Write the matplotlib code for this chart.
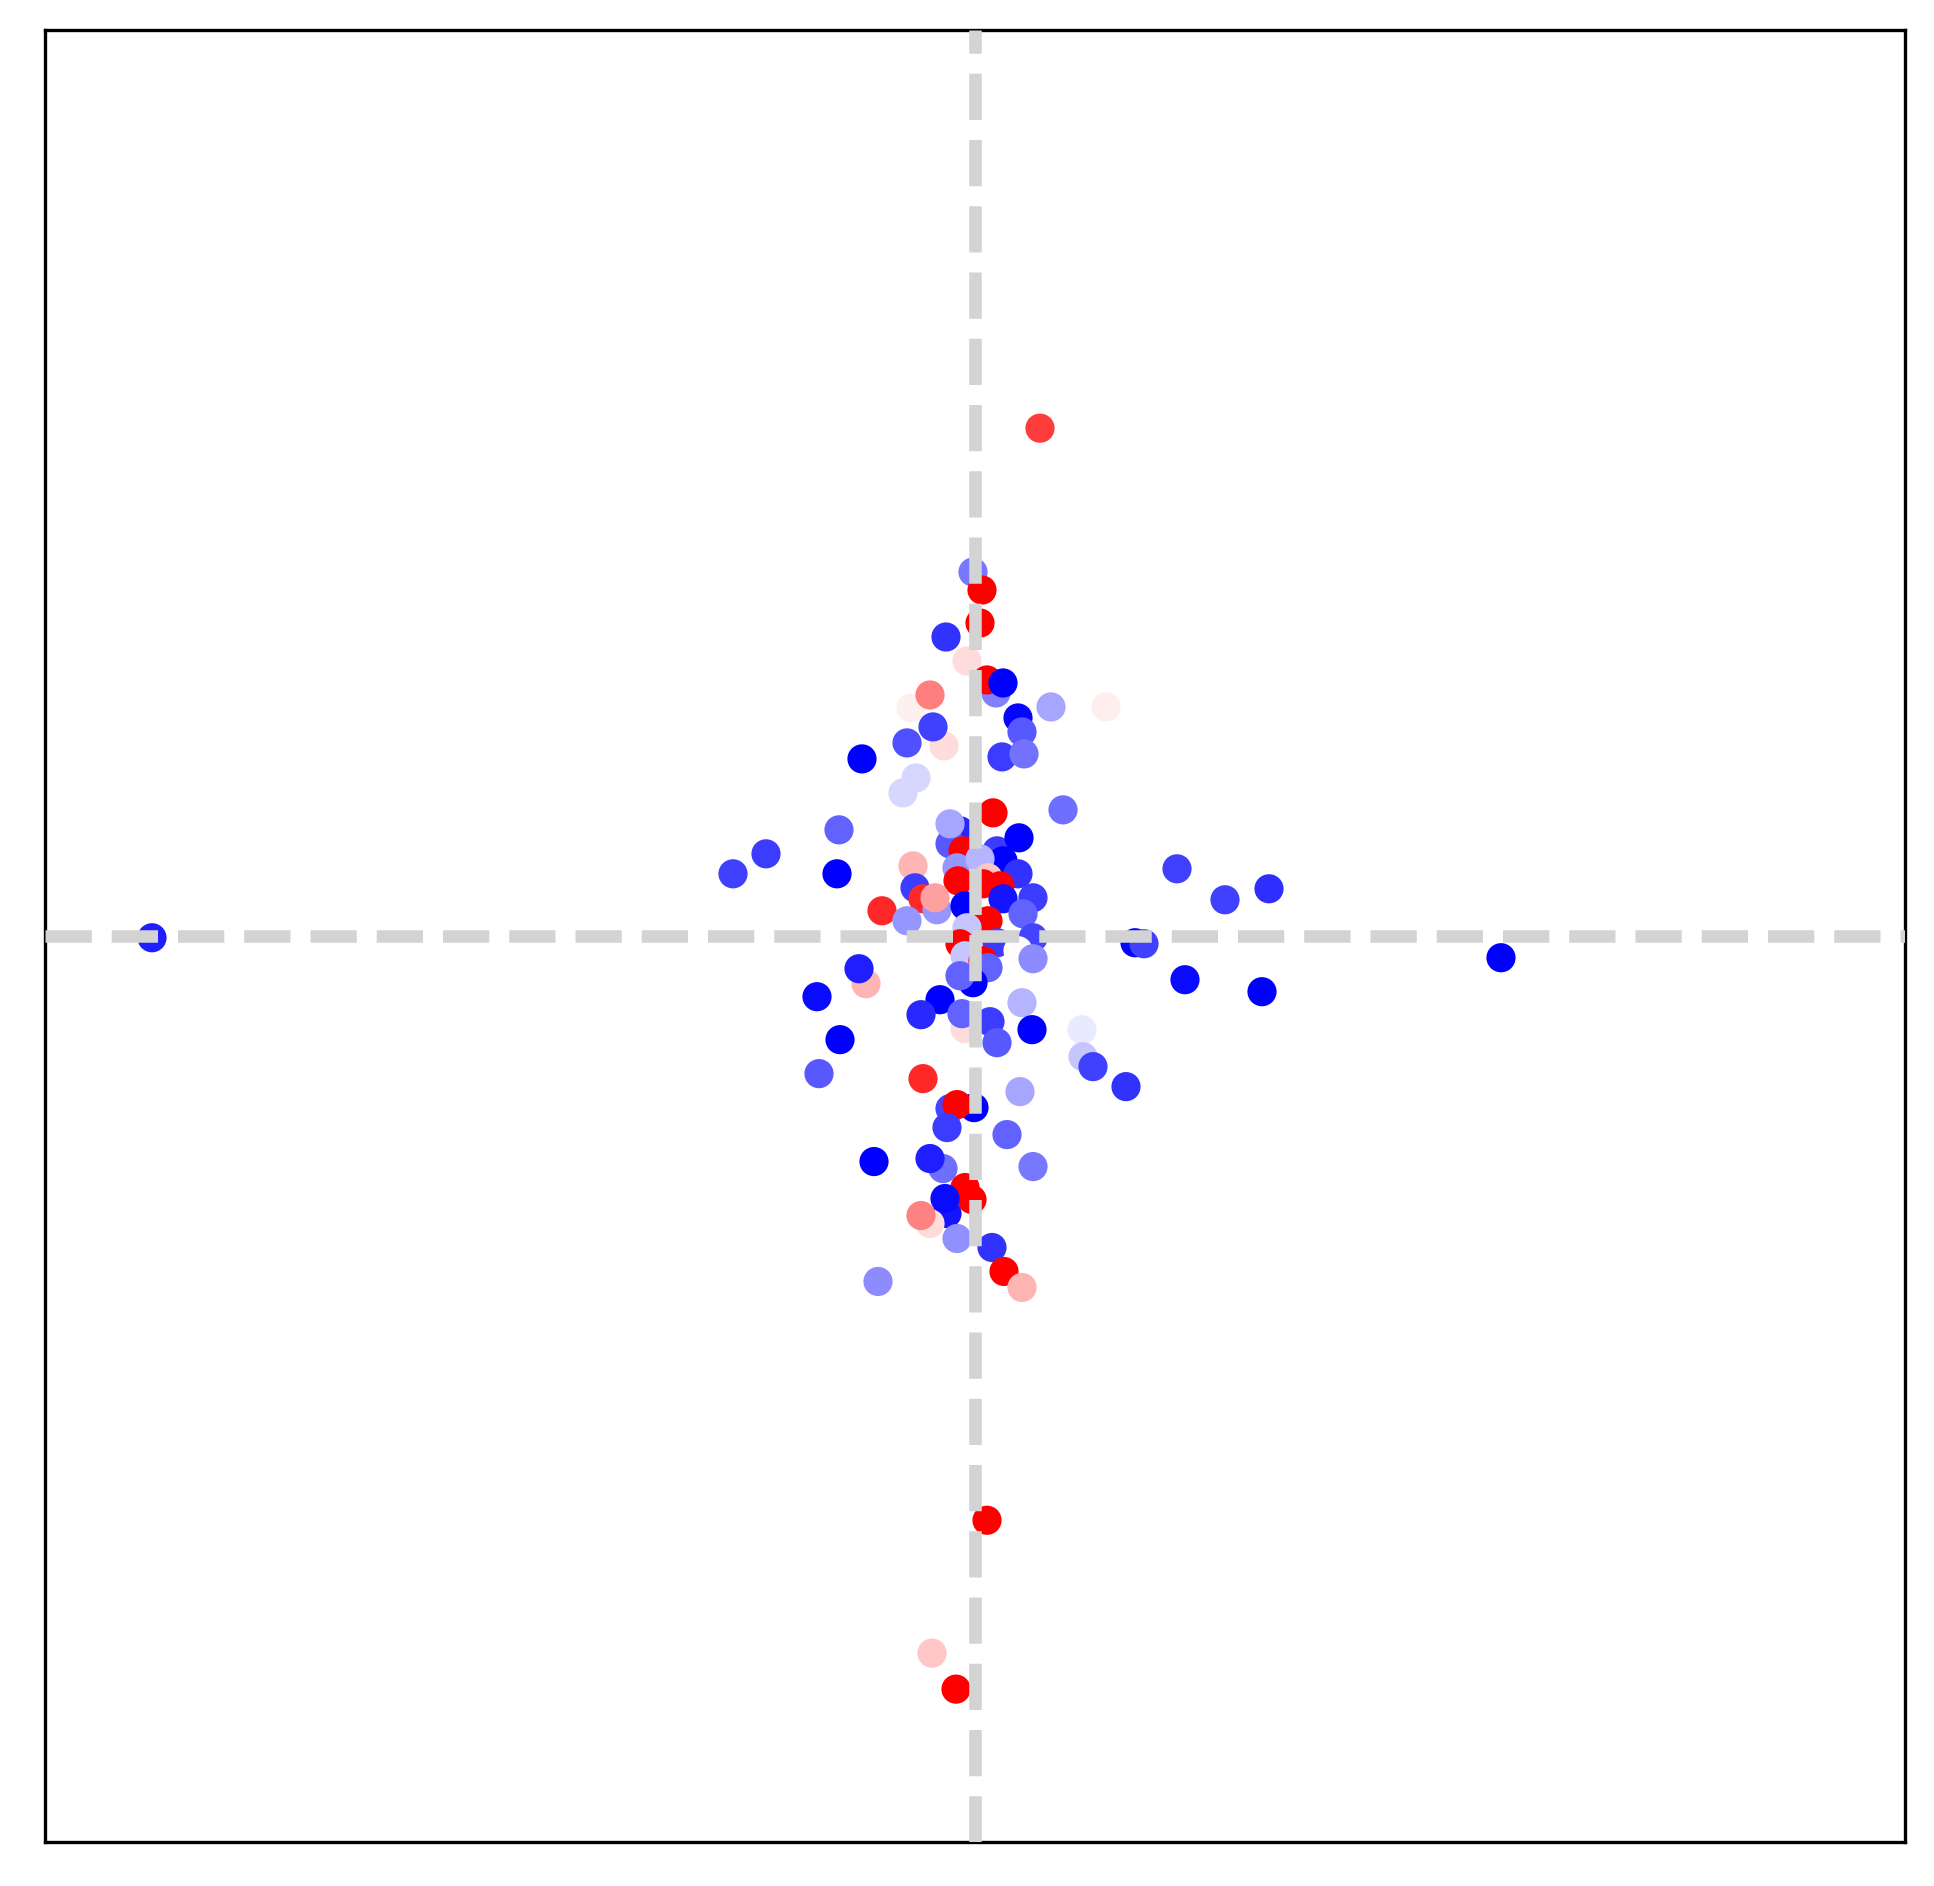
import matplotlib
matplotlib.use("Agg")
import matplotlib.pyplot as plt

# x / y positions of the points (arbitrary units)
x_vals = [0.65, -0.02, 0.07, 0.05, -0.29, -0.08, 0.21, 0.12, 0.28, -0.64,
          -0.45, 0.76, 1.31, 0.43, 0.47, -0.31, -0.42, -0.68, -1.13, 0.27,
          0.49, -0.72, -0.59, 0.88, -1.36, -2.09, -2.42, -1.38, -0.93, 2.02,
          2.50, 2.94, -8.23, 5.26, -0.15, -0.25, 0.18, -0.25, -0.12, 0.22,
          0.28, 0.44, 0.43, -0.18, 0.05, 0.13, -0.17, 0.08, 0.25, -0.62,
          -0.60, -0.52, -0.38, -0.40, -0.68, -0.10, 0.28, 0.58, 0.48, 0.13,
          -0.08, 0.58, 0.22, -0.15, 0.43, 0.58, -0.10, 0.08, 0.13, -0.02,
          -0.15, -0.35, -0.54, -0.10, -0.13, 0.15, 0.22, 0.47, 0.57, -1.09,
          -1.16, -1.58, -1.35, -1.56, 1.60, 1.69, 2.10, 2.87, 1.07, 1.08,
          1.18, 1.51, -0.52, 0.45, -0.25, -0.01, -0.18, -0.28, 0.32, -1.01,
          -0.32, -0.45, 0.58, -0.28, -0.45, -0.54, -0.10, -0.03, -0.30, -0.18,
          0.17, 0.29, 0.47, -0.97, 0.12, -0.43, -0.19]

y_vals = [5.08, 3.64, 3.46, 3.13, 2.99, 2.75, 2.43, 2.56, 2.53, 2.28,
          2.41, 2.29, 2.29, 2.18, 2.04, 1.90, 2.09, 1.93, 1.77, 1.79,
          1.82, 1.43, 1.58, 1.26, 1.06, 0.82, 0.62, 0.62, 0.25, 0.67,
          0.36, 0.47, -0.02, -0.22, 1.05, 0.92, 1.23, 1.12, 0.85, 0.85,
          0.75, 0.98, 0.62, 0.68, 0.77, 0.58, 0.55, 0.52, 0.50, 0.70,
          0.48, 0.37, 0.26, 0.38, 0.15, 0.30, 0.37, 0.38, 0.22, 0.15,
          0.08, -0.02, -0.07, -0.08, -0.15, -0.23, -0.20, -0.25, -0.32, -0.47,
          -0.40, -0.64, -0.79, -0.93, -0.78, -0.86, -1.07, -0.67, -0.94, -0.48,
          -0.33, -0.61, -1.04, -1.38, -0.07, -0.08, -0.44, -0.56, -0.94, -1.21,
          -1.31, -1.51, -1.43, -1.56, -1.73, -1.72, -1.69, -1.92, -1.99, -2.26,
          -2.33, -2.23, -2.31, -2.78, -2.88, -2.80, -2.52, -2.64, -2.63, -3.03,
          -3.12, -3.36, -3.52, -3.46, -5.85, -7.18, -7.54]

# colour value of each point (-1 = blue, 0 = white, 1 = red)
c_vals = [0.76, -0.53, 1.0, 1.0, -0.80, 0.14, -0.50, 1.0, -1.0, 0.06,
          0.50, -0.35, 0.07, -0.97, -0.65, 0.14, -0.75, -0.68, -1.0, -0.76,
          -0.55, -0.16, -0.16, -0.57, -0.61, -0.76, -0.75, -1.0, 0.84, -0.75,
          -0.75, -0.82, -0.88, -1.0, -0.85, -0.65, 1.0, -0.35, 1.0, -0.76,
          -1.0, -1.0, -0.80, -0.41, -0.29, 0.22, 1.0, 1.0, 1.0, 0.29,
          -0.76, 0.84, -0.41, 0.37, -0.41, -1.0, -0.92, -0.76, -0.61, 1.0,
          -0.22, -0.73, -0.76, 1.0, 0.01, -0.45, -0.22, 1.0, -0.61, -1.0,
          -0.61, -1.0, -0.84, 0.14, -0.61, -0.76, -0.65, -0.29, -1.0, 0.29,
          -0.88, -0.96, -1.0, -0.65, -0.98, -0.75, -0.96, -1.0, -0.08, -0.22,
          -0.75, -0.80, 0.84, -0.35, -0.73, -1.0, 1.0, -0.76, -0.61, -1.0,
          -0.57, -0.88, -0.53, -0.92, 0.14, 0.49, 1.0, 1.0, -0.96, -0.43,
          -0.80, 1.0, 0.29, -0.45, 1.0, 0.22, 1.0]

W, H = 1934, 1886
fig = plt.figure(figsize=(W / 300, H / 300), dpi=300)
ax = fig.add_axes([45 / W, 1 - 1842 / H, 1860 / W, 1812.5 / H])

ax.scatter(x_vals, y_vals, c=c_vals, cmap="bwr", vmin=-1, vmax=1, zorder=2)
ax.axhline(0, color="lightgray", linestyle="--", linewidth=3, zorder=3)
ax.axvline(0, color="lightgray", linestyle="--", linewidth=3, zorder=3)

ax.set_xlim(-9.30, 9.30)
ax.set_ylim(-9.07, 9.07)
ax.set_xticks([])
ax.set_yticks([])

fig.savefig("out.png", dpi=300)
